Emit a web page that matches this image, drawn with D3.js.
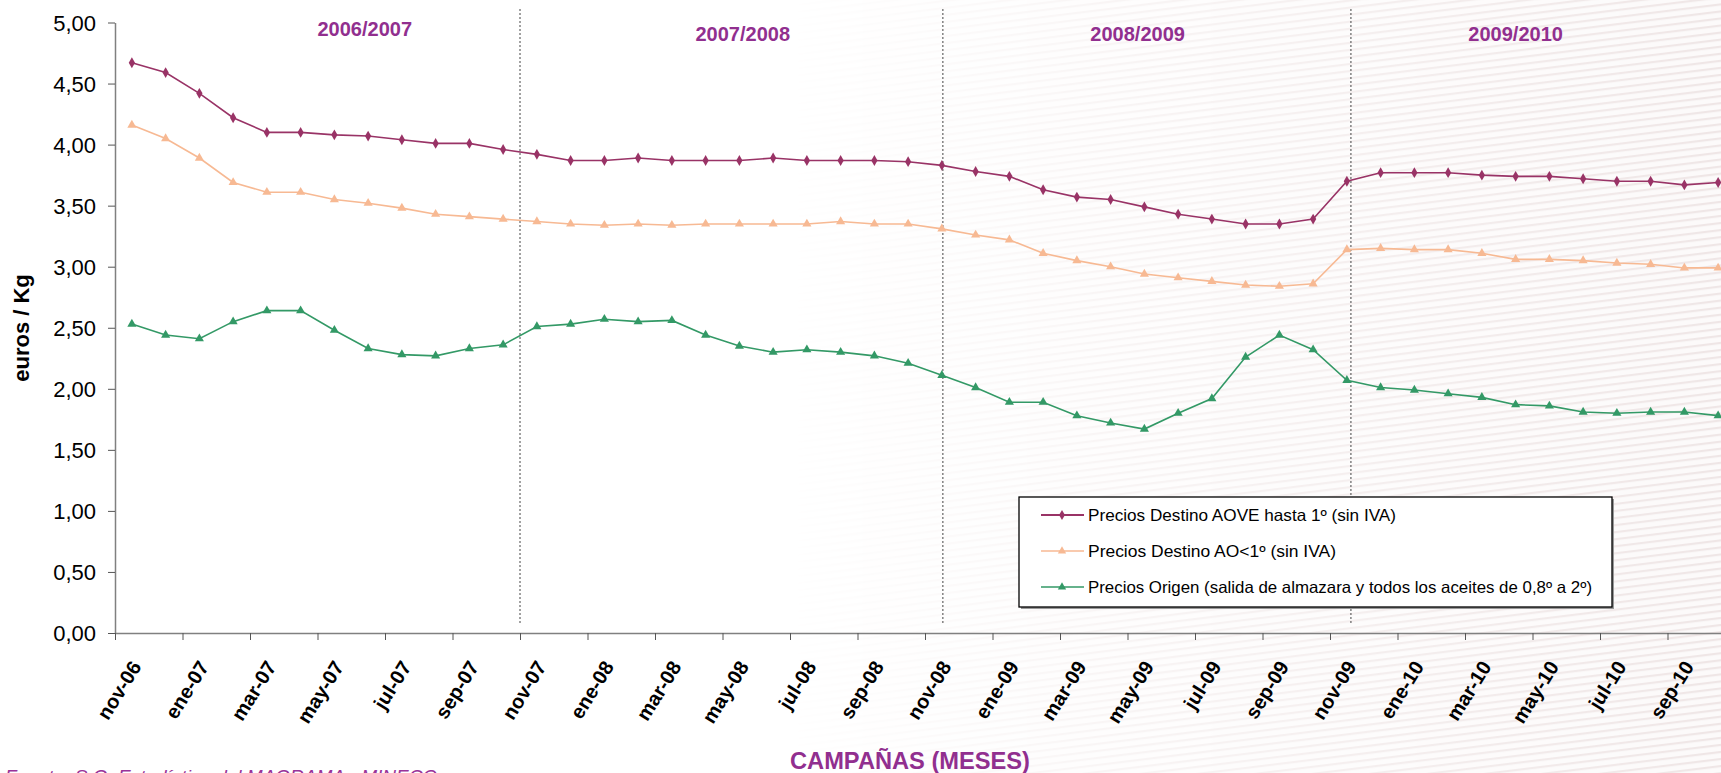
<!DOCTYPE html>
<html>
<head>
<meta charset="utf-8">
<script src="https://cdn.jsdelivr.net/npm/d3@7"></script>
<style>
  body { margin: 0; background: #fff; }
  svg { display: block; font-family: "Liberation Sans", Arial, sans-serif; }
</style>
</head>
<body>
<svg id="chart" width="1721" height="773"></svg>
<script>
// ---------- data ----------
const months = ['nov', 'dic', 'ene', 'feb', 'mar', 'abr', 'may', 'jun', 'jul', 'ago', 'sep', 'oct'];
const categories = d3.range(48).map(i => {
  const yy = 6 + Math.floor((i + 10) / 12);
  return months[i % 12] + '-' + String(yy).padStart(2, '0');
});

const aove = [4.67, 4.59, 4.42, 4.22, 4.10, 4.10, 4.08, 4.07, 4.04, 4.01, 4.01, 3.96,
  3.92, 3.87, 3.87, 3.89, 3.87, 3.87, 3.87, 3.89, 3.87, 3.87, 3.87, 3.86,
  3.83, 3.78, 3.74, 3.63, 3.57, 3.55, 3.49, 3.43, 3.39, 3.35, 3.35, 3.39,
  3.70, 3.77, 3.77, 3.77, 3.75, 3.74, 3.74, 3.72, 3.70, 3.70, 3.67, 3.69];

const ao1 = [4.16, 4.05, 3.89, 3.69, 3.61, 3.61, 3.55, 3.52, 3.48, 3.43, 3.41, 3.39,
  3.37, 3.35, 3.34, 3.35, 3.34, 3.35, 3.35, 3.35, 3.35, 3.37, 3.35, 3.35,
  3.31, 3.26, 3.22, 3.11, 3.05, 3.00, 2.94, 2.91, 2.88, 2.85, 2.84, 2.86,
  3.14, 3.15, 3.14, 3.14, 3.11, 3.06, 3.06, 3.05, 3.03, 3.02, 2.99, 2.99];

const origen = [2.53, 2.44, 2.41, 2.55, 2.64, 2.64, 2.48, 2.33, 2.28, 2.27, 2.33, 2.36,
  2.51, 2.53, 2.57, 2.55, 2.56, 2.44, 2.35, 2.30, 2.32, 2.30, 2.27, 2.21,
  2.11, 2.01, 1.89, 1.89, 1.78, 1.72, 1.67, 1.80, 1.92, 2.26, 2.44, 2.32,
  2.07, 2.01, 1.99, 1.96, 1.93, 1.87, 1.86, 1.81, 1.80, 1.81, 1.81, 1.78];

const seriesNames = [
  'Precios Destino AOVE hasta 1º (sin IVA)',
  'Precios Destino AO<1º  (sin IVA)',
  'Precios Origen (salida de almazara y todos los aceites de 0,8º a 2º)'
];
const seriesColors = ['#993366', '#F7B993', '#339966'];
const seriesSymbols = [d3.symbolDiamond, d3.symbolTriangle, d3.symbolTriangle];

const yTicks = [0, 0.5, 1, 1.5, 2, 2.5, 3, 3.5, 4, 4.5, 5];
const campaigns = ['2006/2007', '2007/2008', '2008/2009', '2009/2010'];
const campaignCenters = [7.4, 18.6, 30.3, 41.5];   // in months from nov-06
const campaignBreaks = [12, 24.53, 36.62];          // in months from nov-06

// ---------- layout ----------
const plot = {left: 115, right: 1735, top: 22.5, bottom: 633};
const svg = d3.select('#chart');

// textured background on the right
const defs = svg.append('defs');
const pat = defs.append('pattern')
  .attr('id', 'stripes').attr('patternUnits', 'userSpaceOnUse')
  .attr('width', 60).attr('height', 7)
  .attr('patternTransform', 'rotate(-7)');
pat.append('rect').attr('width', 60).attr('height', 7).attr('fill', '#fcfafa');
pat.append('rect').attr('y', 3).attr('width', 60).attr('height', 2.2).attr('fill', '#efe6e6');
const grad = defs.append('linearGradient').attr('id', 'fade')
  .attr('gradientUnits', 'userSpaceOnUse').attr('x1', 780).attr('x2', 1721).attr('y1', 0).attr('y2', 0);
grad.append('stop').attr('offset', 0).attr('stop-color', '#fff').attr('stop-opacity', 0);
grad.append('stop').attr('offset', 0.35).attr('stop-color', '#fff').attr('stop-opacity', 0.4);
grad.append('stop').attr('offset', 1).attr('stop-color', '#fff').attr('stop-opacity', 1);
defs.append('mask').attr('id', 'fadeMask')
  .append('rect').attr('width', 1721).attr('height', 773).attr('fill', 'url(#fade)');
svg.append('rect').attr('width', 1721).attr('height', 773)
  .attr('fill', 'url(#stripes)').attr('mask', 'url(#fadeMask)');

const xIdx = d3.scaleLinear().domain([0, categories.length]).range([plot.left, plot.right]);
const x = d3.scaleBand().domain(categories).range([plot.left, plot.right]);
const cx = c => x(c) + x.bandwidth() / 2;
const y = d3.scaleLinear().domain([0, 5]).range([plot.bottom, plot.top]);

// campaign separators
svg.append('g').selectAll('line').data(campaignBreaks).join('line')
  .attr('x1', d => xIdx(d)).attr('x2', d => xIdx(d))
  .attr('y1', 9).attr('y2', 623)
  .attr('stroke', '#444').attr('stroke-width', 1).attr('stroke-dasharray', '2,2');

// campaign titles
svg.append('g').selectAll('text').data(campaigns).join('text')
  .attr('x', (d, i) => xIdx(campaignCenters[i]))
  .attr('y', (d, i) => i === 0 ? 36 : 41)
  .attr('text-anchor', 'middle')
  .attr('font-size', 20).attr('font-weight', 'bold').attr('fill', '#912F8F')
  .text(d => d);

// y axis
const yAxis = svg.append('g')
  .attr('transform', `translate(${plot.left},0)`)
  .call(d3.axisLeft(y).tickValues(yTicks).tickSize(7).tickSizeOuter(0).tickPadding(12)
    .tickFormat(d => d.toFixed(2).replace('.', ',')));
yAxis.select('.domain').attr('stroke', '#808080').attr('stroke-width', 1.5);
yAxis.selectAll('.tick line').attr('stroke', '#555');
yAxis.selectAll('text').attr('font-size', 22).attr('fill', '#000').attr('dy', '0.36em')
  .style('font-family', '"Liberation Sans", Arial, sans-serif');

// x axis ticks (between categories)
const xAxis = svg.append('g')
  .attr('transform', `translate(0,${plot.bottom})`)
  .call(d3.axisBottom(xIdx).tickValues(d3.range(0, categories.length, 2))
    .tickSize(7).tickSizeOuter(0).tickFormat(''));
xAxis.select('.domain').attr('stroke', '#808080').attr('stroke-width', 1.5);
xAxis.selectAll('.tick line').attr('stroke', '#555');

// x labels
svg.append('g').selectAll('text')
  .data(categories.filter((c, i) => i % 2 === 0)).join('text')
  .attr('transform', d => `translate(${cx(d) - 2},${plot.bottom + 26}) rotate(-58)`)
  .attr('text-anchor', 'end').attr('dy', '0.72em')
  .attr('font-size', 20).attr('font-weight', 'bold').attr('fill', '#000')
  .text(d => d);

// series
const allSeries = [aove, ao1, origen];
const line = d3.line().x((d, i) => cx(categories[i])).y(d => y(d));
allSeries.forEach((vals, s) => {
  svg.append('path').datum(vals)
    .attr('d', line).attr('fill', 'none')
    .attr('stroke', seriesColors[s]).attr('stroke-width', 1.6);
  svg.append('g').selectAll('path').data(vals).join('path')
    .attr('transform', (d, i) => `translate(${cx(categories[i])},${y(d)})`)
    .attr('d', d3.symbol().type(seriesSymbols[s]).size(s === 0 ? 34 : 36))
    .attr('fill', seriesColors[s]);
});

// legend
const lg = svg.append('g');
lg.append('rect').attr('x', 1021).attr('y', 499).attr('width', 593).attr('height', 110).attr('fill', '#9a9a9a');
lg.append('rect').attr('x', 1019).attr('y', 497).attr('width', 593).attr('height', 110)
  .attr('fill', '#fff').attr('stroke', '#000').attr('stroke-width', 1.3);
const legendWidths = [308, 248, 504];
seriesNames.forEach((name, s) => {
  const ly = 515 + s * 36;
  lg.append('line').attr('x1', 1041).attr('x2', 1084).attr('y1', ly).attr('y2', ly)
    .attr('stroke', seriesColors[s]).attr('stroke-width', s === 0 ? 2 : 1.6);
  lg.append('path').attr('transform', `translate(1062,${ly})`)
    .attr('d', d3.symbol().type(seriesSymbols[s]).size(30)).attr('fill', seriesColors[s]);
  lg.append('text').attr('x', 1088).attr('y', ly + 6)
    .attr('font-size', 16.5).attr('fill', '#000')
    .attr('textLength', legendWidths[s]).attr('lengthAdjust', 'spacingAndGlyphs')
    .text(name);
});

// axis titles
svg.append('text')
  .attr('transform', 'translate(29,328) rotate(-90)')
  .attr('text-anchor', 'middle').attr('font-size', 22).attr('font-weight', 'bold')
  .text('euros / Kg');

svg.append('text').attr('x', 910).attr('y', 769)
  .attr('text-anchor', 'middle').attr('font-size', 24).attr('font-weight', 'bold')
  .attr('fill', '#912F8F').attr('textLength', 240).attr('lengthAdjust', 'spacingAndGlyphs')
  .text('CAMPAÑAS (MESES)');

svg.append('text').attr('x', 5).attr('y', 783)
  .attr('font-size', 19).attr('font-style', 'italic').attr('fill', '#993399')
  .text('Fuente: S.G. Estadística del MAGRAMA - MINECO');
</script>
</body>
</html>
